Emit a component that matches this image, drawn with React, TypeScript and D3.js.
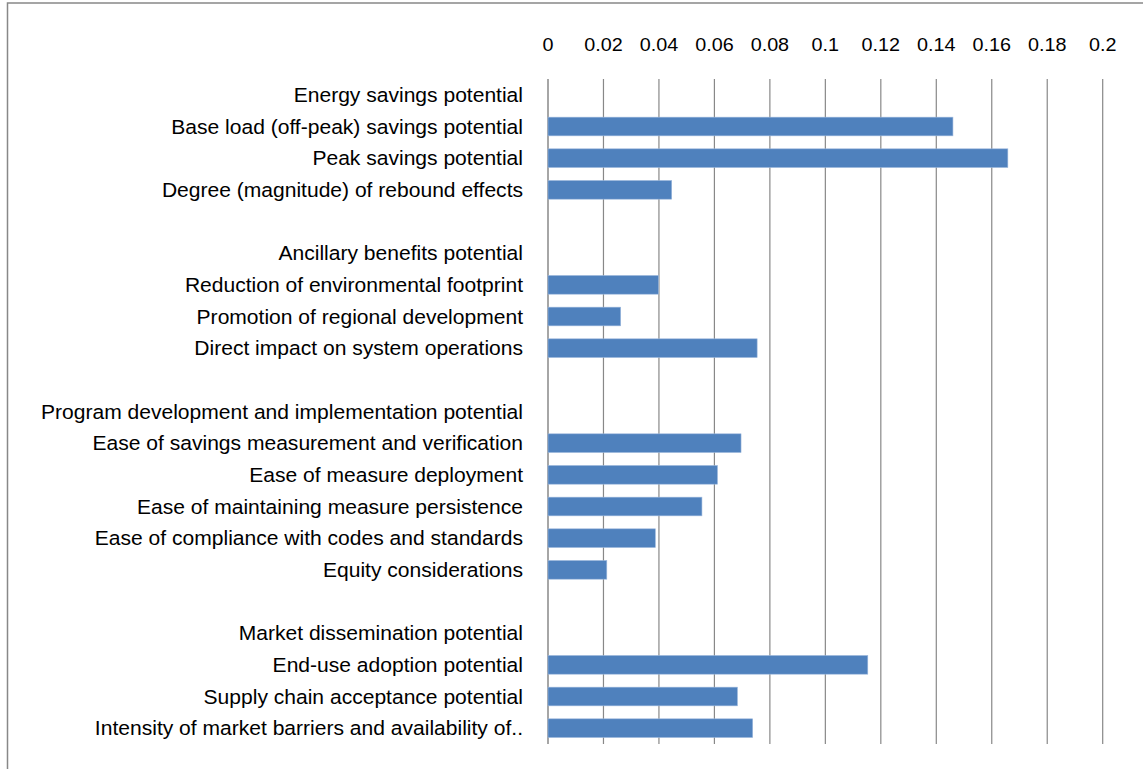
import React from "react";
import * as d3 from "d3";

const categories: string[] = [
  "Energy savings potential",
  "Base load (off-peak) savings potential",
  "Peak savings potential",
  "Degree (magnitude) of rebound effects",
  "",
  "Ancillary benefits potential",
  "Reduction of environmental footprint",
  "Promotion of regional development",
  "Direct impact on system operations",
  " ",
  "Program development and implementation potential",
  "Ease of savings measurement and verification",
  "Ease of measure deployment",
  "Ease of maintaining measure persistence",
  "Ease of compliance with codes and standards",
  "Equity considerations",
  "  ",
  "Market dissemination potential",
  "End-use adoption potential",
  "Supply chain acceptance potential",
  "Intensity of market barriers and availability of..",
];

const values: (number | null)[] = [
  null, 0.146, 0.1658, 0.0446,
  null,
  null, 0.0398, 0.0262, 0.0754,
  null,
  null, 0.0696, 0.0611, 0.0555, 0.0387, 0.0212,
  null,
  null, 0.1153, 0.0683, 0.0738,
];

const tickValues: number[] = [0, 0.02, 0.04, 0.06, 0.08, 0.1, 0.12, 0.14, 0.16, 0.18, 0.2];

export default function App() {
  const W = 1143;
  const H = 769;
  const x0 = 548;
  const x1 = 1102.7;
  const yTop = 79;
  const yBot = 744;

  const x = d3.scaleLinear().domain([0, 0.2]).range([x0, x1]);
  const y = d3
    .scaleBand<number>()
    .domain(categories.map((_, i) => i))
    .range([yTop, yBot])
    .paddingInner(0.41)
    .paddingOuter(0.205);

  const step = y.step();
  const font = "'Liberation Sans', Arial, sans-serif";

  return (
    <svg
      width={W}
      height={H}
      style={{ position: "absolute", left: 0, top: 0, background: "#fff" }}
    >
      <rect x={7.5} y={3} width={W + 20} height={H + 20} fill="#fff" stroke="#888" strokeWidth={1.5} />
      {tickValues.map((t) => (
        <g key={t}>
          <line x1={x(t)} x2={x(t)} y1={yTop} y2={yBot} stroke="#888" strokeWidth={t === 0 ? 1.5 : 1.2} />
          <text
            transform={`translate(${x(t)},50.5) scale(1.04,1)`}
            textAnchor="middle"
            fontFamily={font}
            fontSize={19}
            fill="#000"
          >
            {String(t)}
          </text>
        </g>
      ))}
      {categories.map((c, i) => (
        <text
          key={i}
          transform={`translate(523,${yTop + step * i + step / 2 + 7}) scale(1.08,1)`}
          textAnchor="end"
          fontFamily={font}
          fontSize={19.5}
          fill="#000"
        >
          {c.trim()}
        </text>
      ))}
      {values.map((v, i) =>
        v == null ? null : (
          <rect
            key={i}
            x={x(0)}
            y={y(i)!}
            width={x(v) - x(0)}
            height={y.bandwidth()}
            fill="#4F81BD"
            stroke="#9bb7dc"
            strokeWidth={0.6}
          />
        )
      )}
    </svg>
  );
}
